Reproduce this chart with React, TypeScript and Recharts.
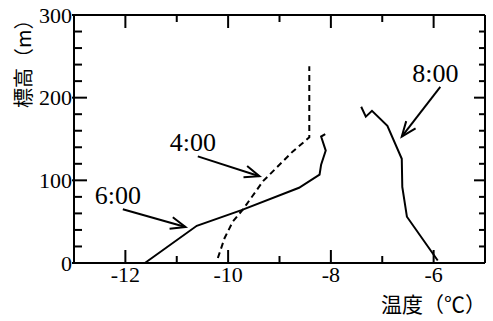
import { LineChart, Line, XAxis, YAxis, ReferenceLine } from "recharts";

// 気温の鉛直分布（標高 vs 温度）
const tempTicks = [-12, -11, -10, -9, -8, -7, -6];
const heightTicks = [0, 20, 40, 60, 80, 100, 120, 140, 160, 180, 200, 220, 240, 260, 280, 300];
const tempDomain = [-13, -5];
const heightDomain = [0, 300];

const profile400 = [
  { t: -10.2, h: 6 },
  { t: -10.07, h: 30 },
  { t: -9.91, h: 50 },
  { t: -9.71, h: 65 },
  { t: -9.32, h: 99 },
  { t: -8.74, h: 135 },
  { t: -8.42, h: 152 },
  { t: -8.42, h: 238 },
];

const profile600 = [
  { t: -11.62, h: 0 },
  { t: -10.61, h: 45 },
  { t: -9.74, h: 64 },
  { t: -8.62, h: 91 },
  { t: -8.22, h: 107 },
  { t: -8.19, h: 119 },
  { t: -8.1, h: 136 },
  { t: -8.19, h: 153 },
  { t: -8.11, h: 156 },
];

const profile800 = [
  { t: -7.41, h: 189 },
  { t: -7.32, h: 177 },
  { t: -7.2, h: 184 },
  { t: -6.9, h: 166 },
  { t: -6.62, h: 126 },
  { t: -6.61, h: 92 },
  { t: -6.52, h: 56 },
  { t: -5.92, h: 3 },
];

const annotations = [
  { label: "8:00", from: { t: -5.87, h: 213 }, to: { t: -6.62, h: 153 } },
  { label: "4:00", from: { t: -10.59, h: 129 }, to: { t: -9.39, h: 105 } },
  { label: "6:00", from: { t: -12.05, h: 65 }, to: { t: -10.83, h: 43.5 } },
];

const xTitle = "温度（℃）";
const yTitle = "標高（m）";

const serif = "'Liberation Serif', 'Times New Roman', 'Noto Sans CJK JP', serif";
const cjk = "'Noto Sans CJK JP', 'Liberation Serif', sans-serif";
const W = 493;
const H = 321;
const M = { top: 15, right: 8, left: 0, bottom: 0 };
const Y_AXIS_W = 74;
const X_AXIS_H = 58;
const PLOT_W = W - M.left - M.right - Y_AXIS_W;
const PLOT_H = H - M.top - M.bottom - X_AXIS_H;
const MAJOR = 13;
const MINOR = 7;
const INK = "#000";

// bottom axis: inward ticks, mirrored on the top edge
function BottomTick({ x, y, payload }: any) {
  const major = payload.value % 2 === 0;
  const len = major ? MAJOR : MINOR;
  const top = y - PLOT_H;
  return (
    <g>
      <line x1={x} y1={y} x2={x} y2={y - len} stroke={INK} strokeWidth={2} />
      <line x1={x} y1={top} x2={x} y2={top + len} stroke={INK} strokeWidth={2} />
      {major && (
        <text x={x} y={y + 19} textAnchor="middle" fontSize={22} fontFamily={serif} fill={INK}>
          {payload.value}
        </text>
      )}
    </g>
  );
}

// left axis: inward ticks, mirrored on the right edge
function LeftTick({ x, y, payload }: any) {
  const major = payload.value % 100 === 0;
  const right = x + PLOT_W;
  return (
    <g>
      <line x1={major ? x - 2 : x} y1={y} x2={x + (major ? MAJOR : MINOR + 1)} y2={y} stroke={INK} strokeWidth={2} />
      <line x1={right} y1={y} x2={right - (major ? 11 : 6)} y2={y} stroke={INK} strokeWidth={2} />
      {major && (
        <text x={x - 2} y={y} dy="0.35em" textAnchor="end" fontSize={22} fontFamily={serif} fill={INK}>
          {payload.value}
        </text>
      )}
    </g>
  );
}

function Arrow(props: any) {
  const { x1, y1, x2, y2, text } = props;
  const a = Math.atan2(y2 - y1, x2 - x1);
  const len = 16;
  const spread = 0.38;
  const bx1 = x2 - len * Math.cos(a - spread);
  const by1 = y2 - len * Math.sin(a - spread);
  const bx2 = x2 - len * Math.cos(a + spread);
  const by2 = y2 - len * Math.sin(a + spread);
  return (
    <g>
      <line x1={x1} y1={y1} x2={x2} y2={y2} stroke={INK} strokeWidth={2} />
      <polyline points={`${bx1},${by1} ${x2},${y2} ${bx2},${by2}`} fill="none" stroke={INK} strokeWidth={2} />
      <text x={x1 - 5} y={y1 - 5} textAnchor="middle" fontSize={26} fontFamily={serif} fill={INK}>
        {text}
      </text>
    </g>
  );
}

export default function App() {
  return (
    <div style={{ position: "absolute", left: 0, top: 0, width: W, height: H, background: "#fff" }}>
      <LineChart width={W} height={H} margin={M}>
        <XAxis
          xAxisId="b"
          type="number"
          dataKey="t"
          domain={tempDomain}
          ticks={tempTicks}
          interval={0}
          tickSize={0}
          tickMargin={0}
          tickLine={false}
          stroke={INK}
          axisLine={{ stroke: INK, strokeWidth: 2 }}
          tick={<BottomTick />}
          height={X_AXIS_H}
        />
        <YAxis
          yAxisId="l"
          type="number"
          domain={heightDomain}
          ticks={heightTicks}
          interval={0}
          tickSize={0}
          tickMargin={0}
          tickLine={false}
          stroke={INK}
          axisLine={{ stroke: INK, strokeWidth: 2 }}
          tick={<LeftTick />}
          width={Y_AXIS_W}
        />
        <ReferenceLine xAxisId="b" yAxisId="l" x={tempDomain[1]} stroke={INK} strokeWidth={2} />
        <ReferenceLine xAxisId="b" yAxisId="l" y={heightDomain[1]} stroke={INK} strokeWidth={2} />
        <Line
          xAxisId="b"
          yAxisId="l"
          data={profile400}
          dataKey="h"
          type="linear"
          stroke={INK}
          strokeWidth={2}
          strokeDasharray="6 4"
          dot={false}
          isAnimationActive={false}
        />
        <Line
          xAxisId="b"
          yAxisId="l"
          data={profile600}
          dataKey="h"
          type="linear"
          stroke={INK}
          strokeWidth={2}
          dot={false}
          isAnimationActive={false}
        />
        <Line
          xAxisId="b"
          yAxisId="l"
          data={profile800}
          dataKey="h"
          type="linear"
          stroke={INK}
          strokeWidth={2}
          dot={false}
          isAnimationActive={false}
        />
        {annotations.map((a) => (
          <ReferenceLine
            key={a.label}
            xAxisId="b"
            yAxisId="l"
            segment={[
              { x: a.from.t, y: a.from.h },
              { x: a.to.t, y: a.to.h },
            ]}
            shape={(p: any) => <Arrow {...p} text={a.label} />}
          />
        ))}
      </LineChart>
      <div
        style={{
          position: "absolute",
          left: 381,
          top: 293,
          fontSize: 21,
          lineHeight: 1,
          fontFamily: cjk,
          whiteSpace: "nowrap",
        }}
      >
        {xTitle}
      </div>
      <div
        style={{
          position: "absolute",
          left: 13,
          top: 108,
          fontSize: 20,
          lineHeight: 1,
          fontFamily: cjk,
          whiteSpace: "nowrap",
          transform: "rotate(-90deg)",
          transformOrigin: "0 0",
        }}
      >
        {yTitle}
      </div>
    </div>
  );
}
